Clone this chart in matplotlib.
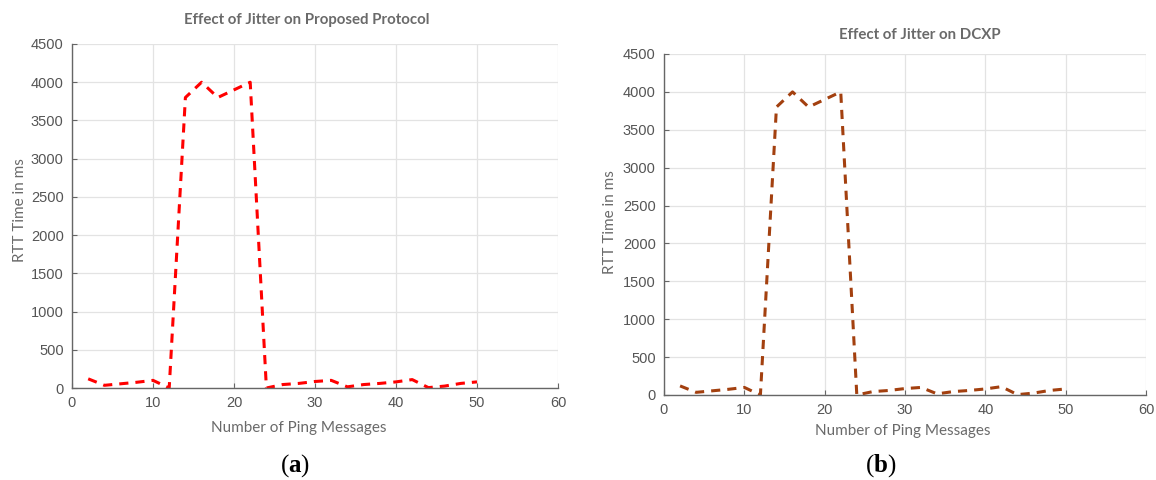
import matplotlib
matplotlib.use("Agg")
import matplotlib.pyplot as plt

plt.rcParams["mathtext.fontset"] = "custom"
plt.rcParams["mathtext.rm"] = "Liberation Serif"
plt.rcParams["mathtext.bf"] = "Liberation Serif:bold"

ping = [2, 4, 6, 8, 10, 12, 14, 16, 18, 20, 22, 24, 26, 28, 30, 32, 34, 36, 38, 40, 42, 44, 46, 48, 50]
rtt = [120, 35, 55, 75, 100, 0, 3800, 4000, 3800, 3900, 4000, 0, 45, 60, 85, 100, 15, 45, 60, 80, 110, 5, 25, 60, 80]

titles = ["Effect of Jitter on Proposed Protocol", "Effect of Jitter on DCXP"]
colors = ["#FF0000", "#A3400F"]
panel_labels = ["a", "b"]
xticks = [0, 10, 20, 30, 40, 50, 60]
yticks = [0, 500, 1000, 1500, 2000, 2500, 3000, 3500, 4000, 4500]

W, H = 1156, 480
fig = plt.figure(figsize=(W / 100, H / 100), dpi=100)

# axes boxes in pixels: left, top, right, bottom
boxes = [(72, 44, 558, 388), (664, 54, 1146, 395)]
title_pos = [(307, 20), (920, 35)]
xlabel_pos = [(299, 428), (903, 431)]
ylabel_pos = [(20, 210), (610, 222)]
letter_pos = [(295, 466), (881, 466)]

tick_font = "Liberation Sans"
lab_font = "Lato"
gray = "#555555"

for i in range(2):
    l, t, r, b = boxes[i]
    ax = fig.add_axes([l / W, 1 - b / H, (r - l) / W, (b - t) / H])
    ax.plot(ping, rtt, color=colors[i], lw=2.2, linestyle=(0, (3, 2.3)))
    ax.set_xlim(0, 60)
    ax.set_ylim(0, 4500)
    ax.set_xticks(xticks)
    ax.set_yticks(yticks)
    ax.grid(True, color="#e3e3e3", lw=0.9)
    ax.set_axisbelow(True)
    for s in ["top", "right"]:
        ax.spines[s].set_visible(False)
    for s in ["left", "bottom"]:
        ax.spines[s].set_color("#666666")
        ax.spines[s].set_linewidth(1.0)
    ax.tick_params(direction="in", length=3.5, width=0.8, colors="#666666",
                   labelcolor=gray, labelsize=10.5, pad=6)
    for lab in ax.get_xticklabels() + ax.get_yticklabels():
        lab.set_fontfamily(tick_font)

    fig.text(title_pos[i][0] / W, 1 - title_pos[i][1] / H, titles[i],
             ha="center", va="center", fontsize=10.8, color="#6a6a6a",
             family=lab_font, fontweight="bold")
    fig.text(xlabel_pos[i][0] / W, 1 - xlabel_pos[i][1] / H, "Number of Ping Messages",
             ha="center", va="center", fontsize=11, color="#6a6a6a", family=lab_font)
    fig.text(ylabel_pos[i][0] / W, 1 - ylabel_pos[i][1] / H, "RTT Time in ms",
             ha="center", va="center", fontsize=11, color="#6a6a6a", family=lab_font,
             rotation=90)
    fig.text(letter_pos[i][0] / W, 1 - letter_pos[i][1] / H,
             "(" + r"$\mathbf{" + panel_labels[i] + "}$" + ")",
             ha="center", va="center", fontsize=18, color="black", family="Liberation Serif")

fig.savefig("out.png", dpi=100)
